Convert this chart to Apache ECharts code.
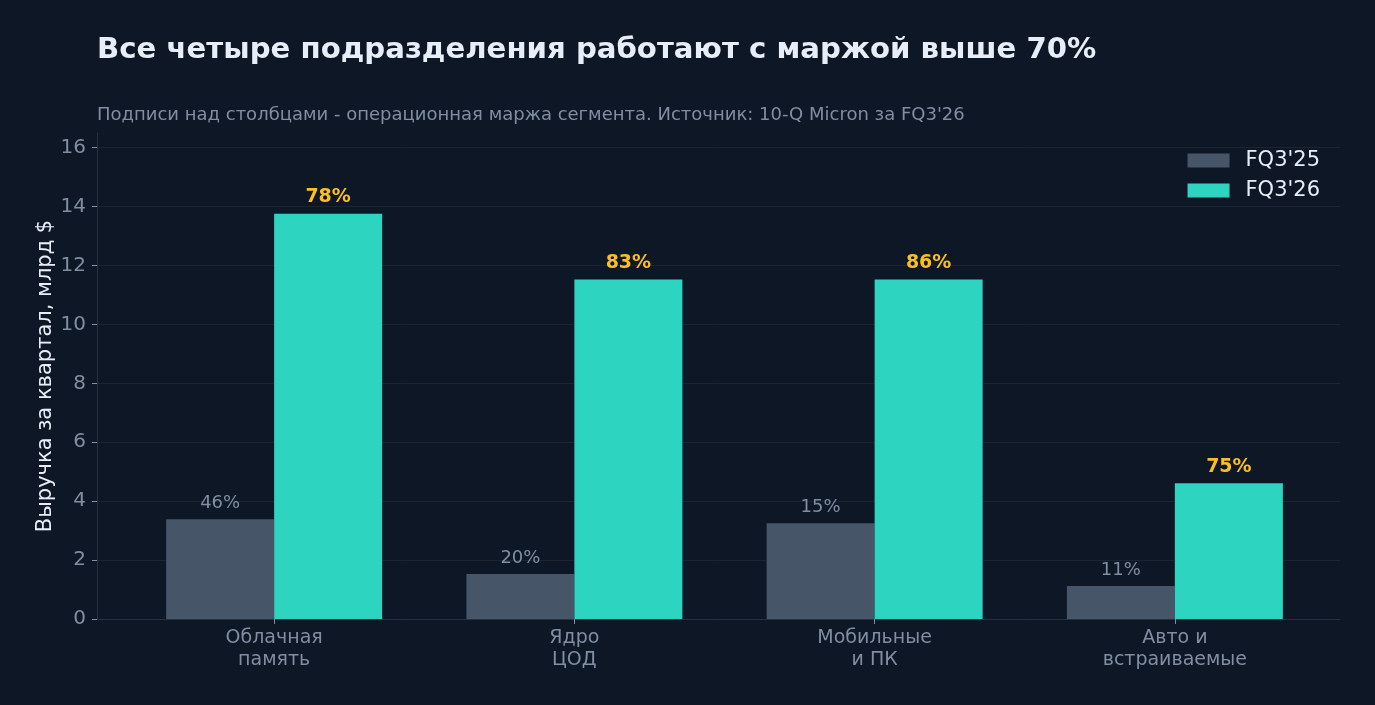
<!DOCTYPE html>
<html><head><meta charset="utf-8">
<script src="https://cdn.jsdelivr.net/npm/echarts@6/dist/echarts.min.js"></script>
<style>html,body{margin:0;padding:0;background:#0e1725;}#c{width:1375px;height:705px;}</style>
</head><body><div id="c"></div>
<script>
const categories = ['Облачная\nпамять', 'Ядро\nЦОД', 'Мобильные\nи ПК', 'Авто и\nвстраиваемые'];
const seriesNames = ["FQ3'25", "FQ3'26"];
const revenue25 = [3.39, 1.53, 3.25, 1.12];
const revenue26 = [13.76, 11.53, 11.53, 4.61];
const margin25 = ['46%', '20%', '15%', '11%'];
const margin26 = ['78%', '83%', '86%', '75%'];
const yTicks = [0, 2, 4, 6, 8, 10, 12, 14, 16];

const font = '"DejaVu Sans", sans-serif';
const chart = echarts.init(document.getElementById('c'));
chart.setOption({
  backgroundColor: '#0e1725',
  textStyle: { fontFamily: font },
  title: [
    { text: 'Все четыре подразделения работают с маржой выше 70%', left: 97, top: 36, padding: 0,
      textStyle: { color: '#e8eef7', fontSize: 29.2, fontWeight: 'bold', fontFamily: font } },
    { text: 'Подписи над столбцами - операционная маржа сегмента. Источник: 10-Q Micron за FQ3\'26', left: 97, top: 106, padding: 0,
      textStyle: { color: '#7f8ea3', fontSize: 18, fontWeight: 'normal', fontFamily: font } }
  ],
  legend: {
    orient: 'vertical', right: 50, top: 145, itemWidth: 42, itemHeight: 14, itemGap: 9,
    icon: 'rect', align: 'left',
    textStyle: { color: '#e8eef7', fontSize: 21, fontFamily: font, padding: [0, 0, 0, 11] },
    data: seriesNames
  },
  grid: { left: 97, right: 35, top: 133, bottom: 86 },
  xAxis: {
    type: 'value', min: -0.59, max: 3.55,
    axisLine: { show: true, onZero: false, lineStyle: { color: '#263244' } },
    axisTick: { show: true, customValues: [0, 1, 2, 3], length: 5, lineStyle: { color: '#7f8ea3' } },
    axisLabel: { customValues: [0, 1, 2, 3], formatter: v => categories[Math.round(v)], color: '#7f8ea3',
      fontSize: 19, lineHeight: 22, margin: 8, fontFamily: font },
    splitLine: { show: false }
  },
  yAxis: {
    type: 'value', min: 0, max: 16.5,
    name: 'Выручка за квартал, млрд $', nameLocation: 'middle', nameGap: 41, nameRotate: 90,
    nameMoveOverlap: false,
    nameTextStyle: { color: '#e8eef7', fontSize: 21, fontFamily: font },
    axisLine: { show: true, onZero: false, lineStyle: { color: '#263244' } },
    axisTick: { show: true, customValues: yTicks, length: 5, lineStyle: { color: '#7f8ea3' } },
    axisLabel: { customValues: yTicks, color: '#7f8ea3', fontSize: 20, margin: 11, fontFamily: font },
    splitLine: { show: true, lineStyle: { color: '#1a2433', width: 1 } }
  },
  series: [
    { name: seriesNames[0], type: 'bar', barWidth: 108, barGap: '0%',
      itemStyle: { color: '#475569' },
      data: revenue25.map((v, i) => [i, v]),
      label: { show: true, position: 'top', distance: 7, formatter: p => margin25[p.dataIndex],
        color: '#7f8ea3', fontSize: 18, fontFamily: font } },
    { name: seriesNames[1], type: 'bar', barWidth: 108, barGap: '0%',
      itemStyle: { color: '#2dd4bf' },
      data: revenue26.map((v, i) => [i, v]),
      label: { show: true, position: 'top', distance: 7, formatter: p => margin26[p.dataIndex],
        color: '#fbbf24', fontSize: 19, fontWeight: 'bold', fontFamily: font } }
  ]
});
</script></body></html>
